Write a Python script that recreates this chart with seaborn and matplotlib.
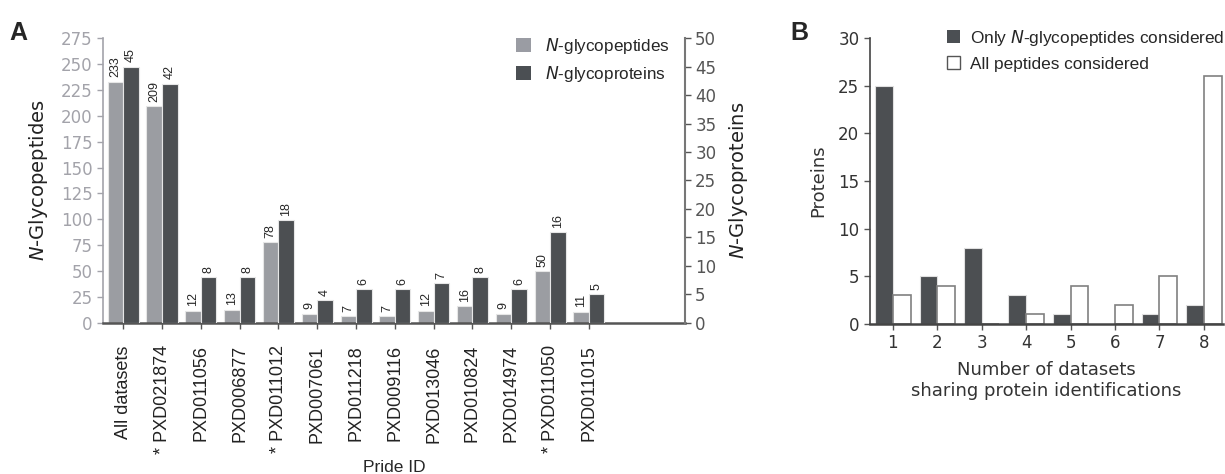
import numpy as np
import pandas as pd
import matplotlib
matplotlib.use("Agg")
import matplotlib.pyplot as plt
import seaborn as sns
from matplotlib.patches import Patch

sns.set_style("white")
plt.rcParams['font.family'] = ['DejaVu Sans']

# ---------------- data ----------------
pride_ids = ["All datasets", "* PXD021874", "PXD011056", "PXD006877", "* PXD011012",
             "PXD007061", "PXD011218", "PXD009116", "PXD013046", "PXD010824",
             "PXD014974", "* PXD011050", "PXD011015"]
glycopeptides = [233, 209, 12, 13, 78, 9, 7, 7, 12, 16, 9, 50, 11]
glycoproteins = [45, 42, 8, 8, 18, 4, 6, 6, 7, 8, 6, 16, 5]

n_datasets = ["1", "2", "3", "4", "5", "6", "7", "8"]
only_glyco = [25, 5, 8, 3, 1, 0, 1, 2]
all_peptides = [3, 4, 0, 1, 4, 2, 5, 26]

LIGHT = "#9a9ca3"
DARK = "#4b4f53"
LGRAY = "#a3a3aa"
DGRAY = "#555555"

fig = plt.figure(figsize=(12.25, 4.74), dpi=100)

# ---------------- Panel A ----------------
axA = fig.add_axes([0.0841, 0.3186, 0.559 - 0.0841, 0.9198 - 0.3186])
axA2 = axA.twinx()

lvl = ["pep", "prot"]
zeros = [0] * len(pride_ids)
# each axis gets both hue levels so bars dodge side by side; the placeholder level is hidden
dfA1 = pd.concat([pd.DataFrame({"id": pride_ids, "val": glycopeptides, "s": "pep"}),
                  pd.DataFrame({"id": pride_ids, "val": zeros, "s": "prot"})])
dfA2 = pd.concat([pd.DataFrame({"id": pride_ids, "val": zeros, "s": "pep"}),
                  pd.DataFrame({"id": pride_ids, "val": glycoproteins, "s": "prot"})])

sns.barplot(data=dfA1, x="id", y="val", hue="s", hue_order=lvl,
            palette={"pep": LIGHT, "prot": DARK}, order=pride_ids, ax=axA,
            width=0.8, edgecolor="#e6e6e6", linewidth=0.8, legend=False, errorbar=None)
sns.barplot(data=dfA2, x="id", y="val", hue="s", hue_order=lvl,
            palette={"pep": LIGHT, "prot": DARK}, order=pride_ids, ax=axA2,
            width=0.8, edgecolor="#e6e6e6", linewidth=0.8, legend=False, errorbar=None)

for p in axA.containers[1]:
    p.set_visible(False)
for p in axA2.containers[0]:
    p.set_visible(False)

axA.bar_label(axA.containers[0], labels=[f"{int(v)}" for v in axA.containers[0].datavalues],
              rotation=90, padding=3, fontsize=9, family="Liberation Sans")
axA2.bar_label(axA2.containers[1], labels=[f"{int(v)}" for v in axA2.containers[1].datavalues],
               rotation=90, padding=3, fontsize=9, family="Liberation Sans")

axA.set_ylim(0, 275)
axA2.set_ylim(0, 50)
axA.set_yticks(np.arange(0, 276, 25))
axA2.set_yticks(np.arange(0, 51, 5))
axA.set_xlim(-0.52, 14.47)
axA2.set_xlim(-0.52, 14.47)

axA.set_xticks(range(len(pride_ids)))
axA.set_xticklabels(pride_ids, rotation=90, fontsize=13, family="Liberation Sans", color="#222222")
axA.tick_params(axis="y", colors=LGRAY, labelsize=12, length=4, width=1, direction="out", left=True)
axA.tick_params(axis="x", length=4, width=1, color=DGRAY, direction="out", bottom=True, pad=12)
axA2.tick_params(axis="y", colors=DGRAY, labelsize=12, length=4, width=1, direction="out", right=True)
axA.set_xlabel("Pride ID", fontsize=12.5, family="Liberation Sans", labelpad=4)
axA.set_ylabel(r"$\it{N}$-Glycopeptides", fontsize=14, color="#222222", labelpad=8)
axA2.set_ylabel(r"$\it{N}$-Glycoproteins", fontsize=14, color="#222222", labelpad=8)
axA2.set_xlabel("")

for ax in (axA, axA2):
    ax.spines["top"].set_visible(False)
axA.spines["left"].set_color(LGRAY)
axA.spines["left"].set_linewidth(1.2)
axA2.spines["left"].set_visible(False)
axA.spines["right"].set_visible(False)
axA2.spines["right"].set_color("#777777")
axA2.spines["right"].set_linewidth(1.5)
axA.spines["bottom"].set_color(DGRAY)
axA.spines["bottom"].set_linewidth(1.8)
axA2.spines["bottom"].set_visible(False)
axA2.tick_params(axis="x", bottom=False, labelbottom=False)

hA = [Patch(facecolor=LIGHT, edgecolor="none"), Patch(facecolor=DARK, edgecolor="none")]
axA2.legend(hA, [r"$\it{N}$-glycopeptides", r"$\it{N}$-glycoproteins"],
            loc="upper right", bbox_to_anchor=(1.0, 1.06), frameon=False,
            prop={"family": "Liberation Sans", "size": 12.3},
            handlelength=0.9, handleheight=0.9, handletextpad=0.8, labelspacing=0.45)

fig.text(0.008, 0.915, "A", fontsize=18, fontweight="bold", family="Liberation Sans")

# ---------------- Panel B ----------------
axB = fig.add_axes([0.710, 0.3165, 0.998 - 0.710, 0.92 - 0.3165])
dfB = pd.concat([
    pd.DataFrame({"n": n_datasets, "val": only_glyco, "s": "only"}),
    pd.DataFrame({"n": n_datasets, "val": all_peptides, "s": "all"}),
])
sns.barplot(data=dfB, x="n", y="val", hue="s", hue_order=["only", "all"],
            palette={"only": DARK, "all": "white"}, order=n_datasets, ax=axB,
            width=0.8, legend=False, errorbar=None, linewidth=1.2)
for bar in axB.containers[0]:
    bar.set_edgecolor("#e0e0e0")
    bar.set_linewidth(0.8)
for bar in axB.containers[1]:
    bar.set_edgecolor("#808080")
    bar.set_linewidth(1.2)

axB.set_ylim(0, 30)
axB.set_yticks(np.arange(0, 31, 5))
axB.set_xlim(-0.52, 7.42)
axB.tick_params(axis="y", colors=DGRAY, labelsize=12, length=4, width=1, direction="out", left=True)
axB.tick_params(axis="x", colors=DGRAY, labelsize=12, length=4, width=1, direction="out", bottom=True)
for lab in axB.get_xticklabels() + axB.get_yticklabels():
    lab.set_color("#333333")
axB.spines["top"].set_visible(False)
axB.spines["right"].set_visible(False)
axB.spines["left"].set_color("#444444")
axB.spines["left"].set_linewidth(1.2)
axB.spines["bottom"].set_color("#444444")
axB.spines["bottom"].set_linewidth(1.8)
axB.set_ylabel("Proteins", fontsize=13, color="#333333", labelpad=8)
axB.set_xlabel("Number of datasets\nsharing protein identifications", fontsize=13,
               color="#333333", labelpad=6)

hB = [Patch(facecolor=DARK, edgecolor="none"), Patch(facecolor="white", edgecolor="#555555")]
axB.legend(hB, [r"Only $\it{N}$-glycopeptides considered", "All peptides considered"],
           loc="upper left", bbox_to_anchor=(0.175, 1.09), frameon=False,
           prop={"family": "Liberation Sans", "size": 12.4},
           handlelength=0.75, handleheight=0.75, handletextpad=0.6, labelspacing=0.5)

fig.text(0.645, 0.915, "B", fontsize=18, fontweight="bold", family="Liberation Sans")

fig.savefig("out.png", dpi=100)
